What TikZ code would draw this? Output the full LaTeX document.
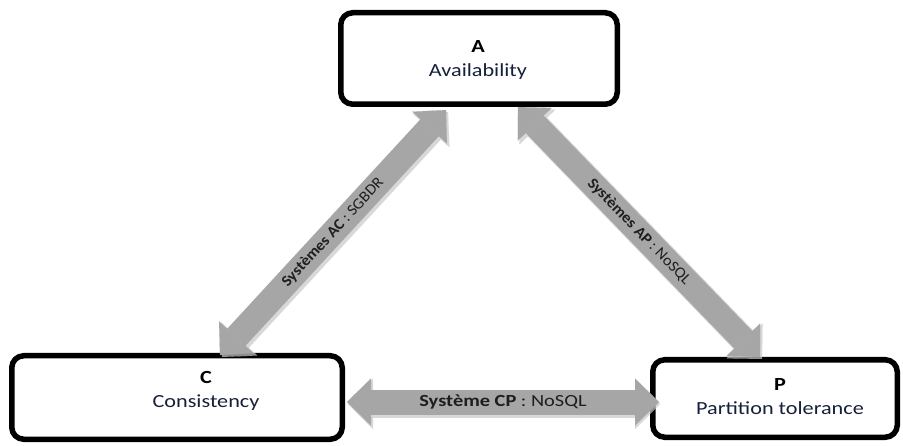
\documentclass[tikz,border=0pt]{standalone}
\usepackage{fontspec}
\setmainfont{Carlito}
\newfontfamily\wfont[FakeStretch=1.2]{Carlito}
\newfontfamily\lfont[FakeStretch=1.05]{Carlito}
\usetikzlibrary{arrows.meta,calc}
\definecolor{arrowgray}{HTML}{A6A6A6}
\definecolor{shadowgray}{HTML}{C8C8C8}
\definecolor{boxtext}{HTML}{17203A}
\definecolor{labeltext}{HTML}{1E1E1E}
\tikzset{
  capbox/.style={draw=black, line width=5.5pt, rounded corners=12pt, fill=white, inner sep=0pt},
  captext/.style={align=center, text=boxtext, font=\wfont\fontsize{18.5}{24}\selectfont},
  bigarrow/.style={draw=arrowgray, line width=25pt,
    {Triangle[length=24pt,width=47pt,line width=0.1pt]}-{Triangle[length=24pt,width=47pt,line width=0.1pt]}},
  bigshadow/.style={draw=shadowgray, line width=27pt, opacity=0.7,
    {Triangle[length=25pt,width=50pt,line width=0.1pt]}-{Triangle[length=25pt,width=50pt,line width=0.1pt]}},
  slabel/.style={text=labeltext, font=\lfont\fontsize{15.5}{18}\selectfont, sloped, midway, inner sep=0pt},
  hlabel/.style={text=labeltext, font=\wfont\fontsize{17}{20}\selectfont, midway, inner sep=0pt}
}
\begin{document}
\begin{tikzpicture}[x=1pt,y=1pt]
\useasboundingbox (0,0) rectangle (903,445);
\fill[white] (0,0) rectangle (903,445);
% boxes
\node[capbox, minimum width=276.5pt, minimum height=91.5pt] (A) at (479,386.5) {};
\node[capbox, minimum width=330.5pt, minimum height=83.5pt] (C) at (177,47.5) {};
\node[capbox, minimum width=244.5pt, minimum height=77.5pt] (P) at (775,46.5) {};
\node[captext] (At) at (478,385) {\textcolor{black}{\bfseries A}\\Availability};
\node[captext] (Ct) at (206,54) {\textcolor{black}{\bfseries C}\\Consistency};
\node[captext] (Pt) at (780,48) {\textcolor{black}{\bfseries P}\\Partition tolerance};
% arrow end points
\coordinate (a1) at (446,335);
\coordinate (c1) at (220,90);
\coordinate (a2) at (518,338);
\coordinate (p2) at (760,88);
\coordinate (c3) at (347,43);
\coordinate (p3) at (659,43);
% shadows
\draw[bigshadow] ($(c1)+(2,-2)$) -- ($(a1)+(2,-2)$);
\draw[bigshadow] ($(a2)+(2,-2)$) -- ($(p2)+(2,-2)$);
\draw[bigshadow] ($(c3)+(1,-2)$) -- ($(p3)+(1,-2)$);
% arrows
\draw[bigarrow] (c1) -- (a1) node[slabel] {\textbf{Systèmes AC} : SGBDR};
\draw[bigarrow] (a2) -- (p2) node[slabel] {\textbf{Systèmes AP} : NoSQL};
\draw[bigarrow] (c3) -- (p3) node[hlabel] {\textbf{Système CP} : NoSQL};
\end{tikzpicture}
\end{document}
